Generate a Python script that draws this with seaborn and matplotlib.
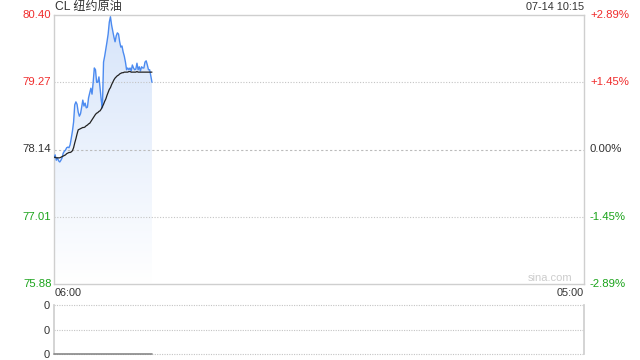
import numpy as np
import pandas as pd
import matplotlib
matplotlib.use("Agg")
import matplotlib.pyplot as plt
import seaborn as sns

# ---- data ----
title = "CL 纽约原油"
stamp = "07-14 10:15"
prev_close = 78.14
price_ticks = [75.88, 77.01, 78.14, 79.27, 80.40]
pct_labels = ["-2.89%", "-1.45%", "0.00%", "+1.45%", "+2.89%"]
x_labels = ["06:00", "05:00"]
session_minutes = 1380  # 06:00 -> next day 05:00

minutes = list(range(0, 256, 3))  # 06:00 .. 10:15, 3-minute samples
price = [78.00, 78.05, 77.96, 78.00, 77.95, 77.93, 77.96, 78.00, 78.08, 78.11,
         78.13, 78.17, 78.18, 78.17, 78.22, 78.33, 78.45, 78.60, 78.89, 78.94,
         78.90, 78.77, 78.70, 78.74, 78.85, 78.97, 78.87, 78.92, 78.84, 78.85,
         79.01, 79.09, 79.17, 79.07, 79.27, 79.51, 79.48, 79.27, 79.27, 79.36,
         79.17, 78.97, 78.84, 79.61, 79.71, 79.83, 79.95, 80.08, 80.28, 80.37,
         80.23, 80.13, 80.03, 79.95, 80.05, 80.10, 80.08, 79.95, 79.86, 79.88,
         79.78, 79.71, 79.61, 79.48, 79.51, 79.48, 79.51, 79.46, 79.56, 79.51,
         79.48, 79.49, 79.59, 79.48, 79.53, 79.46, 79.53, 79.51, 79.51, 79.61,
         79.63, 79.56, 79.48, 79.48, 79.38, 79.27]
avg_price = [78.01, 78.01, 78.00, 78.00, 78.00, 78.00, 78.01, 78.02, 78.03, 78.04,
             78.05, 78.07, 78.08, 78.09, 78.09, 78.10, 78.12, 78.17, 78.25, 78.32,
             78.40, 78.47, 78.48, 78.49, 78.50, 78.51, 78.51, 78.52, 78.54, 78.55,
             78.57, 78.58, 78.61, 78.64, 78.67, 78.70, 78.73, 78.75, 78.76, 78.78,
             78.79, 78.82, 78.86, 78.90, 78.95, 78.99, 79.05, 79.10, 79.15, 79.18,
             79.23, 79.27, 79.31, 79.34, 79.36, 79.38, 79.39, 79.41, 79.42, 79.43,
             79.43, 79.44, 79.44, 79.44, 79.44, 79.45, 79.45, 79.44, 79.44, 79.44,
             79.44, 79.44, 79.45, 79.44, 79.44, 79.44, 79.44, 79.44, 79.44, 79.44,
             79.44, 79.44, 79.44, 79.44, 79.44, 79.44]
volume = [0] * len(minutes)
vol_ticks = [0, 0.5, 1.0]
vol_labels = ["0", "0", "0"]

df = pd.DataFrame({"minute": minutes, "price": price, "avg": avg_price, "volume": volume})

# ---- style ----
sns.set_theme(style="white")
plt.rcParams["font.family"] = ["Liberation Sans", "Noto Sans CJK SC", "DejaVu Sans"]

RED = "#f02c2c"
GREEN = "#1aa31a"
DARK = "#333333"
BORDER = "#cfcfcf"
GRID = "#c4c4c4"
BLUE = "#4c8bf0"

fig = plt.figure(figsize=(6.4, 3.6), dpi=100)
W, H = 640, 360
ax = fig.add_axes([54 / W, 1 - 284 / H, 530 / W, 269 / H])
axv = fig.add_axes([54 / W, 1 - 354 / H, 530 / W, 49 / H])

ymin, ymax = price_ticks[0], price_ticks[-1]

# gradient fill under price
poly = ax.fill_between(df["minute"], df["price"], ymin, color="none", lw=0)
grad = np.linspace(0, 1, 256).reshape(-1, 1)
cmap = matplotlib.colors.LinearSegmentedColormap.from_list(
    "g", [(1, 1, 1), (0.84, 0.895, 0.98)])
im = ax.imshow(grad, cmap=cmap, aspect="auto", origin="lower",
               extent=[df["minute"].min(), df["minute"].max(), ymin, ymax], zorder=1)
path = poly.get_paths()[0]
im.set_clip_path(path, transform=ax.transData)

sns.lineplot(data=df, x="minute", y="price", ax=ax, color=BLUE, lw=1.0, zorder=3)
sns.lineplot(data=df, x="minute", y="avg", ax=ax, color="#222222", lw=0.9, zorder=4)

ax.set_xlim(0, session_minutes)
ax.set_ylim(ymin, ymax)
ax.set_xlabel("")
ax.set_ylabel("")
ax.set_xticks([])
ax.set_yticks(price_ticks)
ax.set_yticklabels([])
ax.tick_params(length=0)
for s in ax.spines.values():
    s.set_color(BORDER)
    s.set_linewidth(1.0)

for v in price_ticks[1:-1]:
    if v == prev_close:
        ax.axhline(v, color="#bbbbbb", lw=0.8, ls=(0, (2, 2)), zorder=2)
    else:
        ax.axhline(v, color=GRID, lw=0.8, ls=(0, (1, 1.5)), zorder=2)

# left / right labels
for v, p in zip(price_ticks, pct_labels):
    c = RED if v > prev_close else (GREEN if v < prev_close else DARK)
    ax.text(-2.5 / 530 * session_minutes, v, f"{v:.2f}", ha="right", va="center",
            fontsize=8.2, color=c, clip_on=False)
    ax.text(session_minutes + 6 / 530 * session_minutes, v, p, ha="left", va="center",
            fontsize=8.2, color=c, clip_on=False)

ax.text(0.978, 0.004, "sina.com", transform=ax.transAxes, ha="right", va="bottom",
        fontsize=8, color="#cccccc")

fig.text(55 / W, 1 - 7 / H, title, ha="left", va="center", fontsize=8.7, color=DARK)
fig.text(584 / W, 1 - 7 / H, stamp, ha="right", va="center", fontsize=7.8, color=DARK)
fig.text(55 / W, 1 - 293 / H, x_labels[0], ha="left", va="center", fontsize=7.8, color=DARK)
fig.text(584 / W, 1 - 293 / H, x_labels[1], ha="right", va="center", fontsize=7.8, color=DARK)

# volume panel
sns.lineplot(data=df, x="minute", y="volume", ax=axv, color="#888888", lw=1.2,
             zorder=4, clip_on=False)
axv.set_xlim(0, session_minutes)
axv.set_ylim(vol_ticks[0], vol_ticks[-1])
axv.set_xlabel("")
axv.set_ylabel("")
axv.set_xticks([])
axv.set_yticks(vol_ticks)
axv.set_yticklabels(vol_labels, fontsize=8, color=DARK)
axv.tick_params(length=0, pad=3)
for k in ["left", "right"]:
    axv.spines[k].set_color(BORDER)
for k in ["top", "bottom"]:
    axv.spines[k].set_visible(False)
for v in vol_ticks:
    axv.axhline(v, color=GRID, lw=0.8, ls=(0, (1, 1.2)), zorder=2, clip_on=False)

fig.savefig("out.png", dpi=100)
